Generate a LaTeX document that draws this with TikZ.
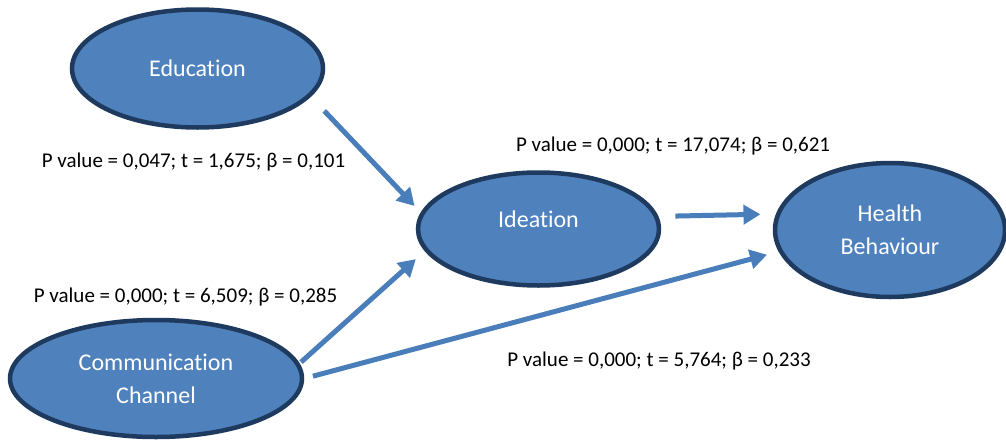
\documentclass[tikz,border=0pt]{standalone}
\usepackage{fontspec}
\setmainfont{Carlito}[Ligatures=NoCommon]
\usetikzlibrary{shapes.geometric,arrows.meta}
\definecolor{boxblue}{HTML}{4F81BD}
\definecolor{boxedge}{HTML}{1F3A5F}
\definecolor{arrowblue}{HTML}{4A7EBB}
\tikzset{
  var/.style={ellipse,draw=boxedge,line width=4.5pt,fill=boxblue,text=white,
    inner sep=0pt,align=center,font=\fontsize{24}{33}\selectfont},
  conn/.style={draw=arrowblue,line width=5pt,-{Triangle[length=17pt,width=19pt]}},
  coef/.style={inner sep=0pt,font=\fontsize{21}{25}\selectfont}
}

\begin{document}
\begin{tikzpicture}[x=1pt,y=-1pt]
\useasboundingbox (0,0) rectangle (1006,439);
% constructs
\node[var,minimum width=251pt,minimum height=118pt] (edu) at (197.5,68.5) {Education};
\node[var,minimum width=241pt,minimum height=113pt,text depth=19pt] (idea) at (538.5,229) {Ideation};
\node[var,minimum width=230pt,minimum height=134pt] (hb) at (890,230) {Health\\Behaviour};
\node[var,minimum width=292pt,minimum height=117pt] (comm) at (156,378.5) {Communication\\Channel};
% paths
\draw[conn,shorten <=19.5pt,shorten >=9pt] (edu.-14) -- (idea.172.2);
\draw[conn,shorten <=2pt,shorten >=12pt] (comm.6.7) -- (idea.-169.9);
\draw[conn,shorten <=9pt,shorten >=12pt] (comm.0.4) -- (hb.191.4);
\draw[conn,shorten <=17pt,shorten >=15.5pt] (idea.6.3) -- (hb.172.9);
% coefficients
\node[coef] (cedu) at (193.5,162) {P value = 0,047; t = 1,675; β = 0,101};
\node[coef] (cidea) at (673,146) {P value = 0,000; t = 17,074; β = 0,621};
\node[coef] (ccomm) at (185.5,297) {P value = 0,000; t = 6,509; β = 0,285};
\node[coef] (ccommhb) at (659,361) {P value = 0,000; t = 5,764; β = 0,233};
\end{tikzpicture}
\end{document}
